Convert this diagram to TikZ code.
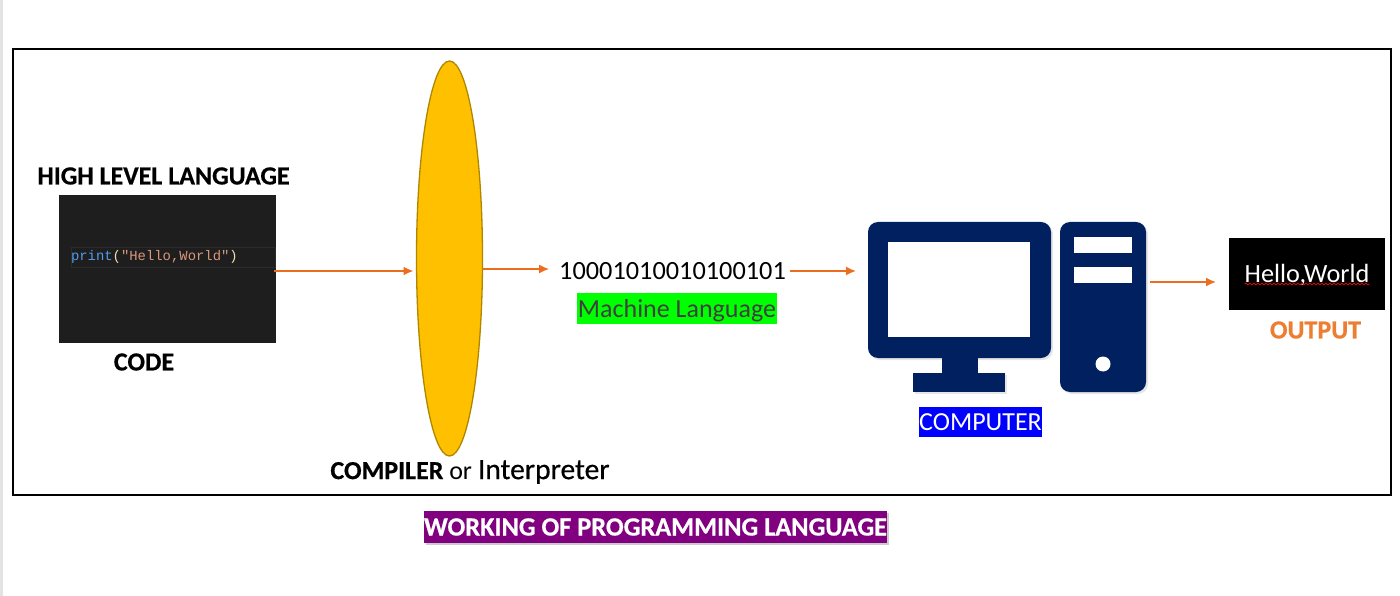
\documentclass[tikz,border=0pt]{standalone}
\usepackage{fontspec}
\usetikzlibrary{positioning,shadows,shapes.geometric,arrows.meta,decorations.pathmorphing}
\setmainfont{Carlito}
\setmonofont{Liberation Mono}
\newfontfamily\capfont{Carlito}[BoldFeatures={FakeBold=0.6}]
\newfontfamily\midfont{Carlito}[FakeBold=0.5]
\definecolor{flowcol}{HTML}{ED6D1F}
\definecolor{compfill}{HTML}{FFC000}
\definecolor{compline}{HTML}{AF8600}
\definecolor{navyicon}{HTML}{002060}
\definecolor{outcol}{HTML}{ED7D31}
\definecolor{titlecol}{HTML}{800080}
\definecolor{codebg}{HTML}{1E1E1E}
\definecolor{codeline}{HTML}{2B2B2B}
\definecolor{kwcol}{HTML}{4F9CEC}
\definecolor{strcol}{HTML}{D8967A}
\definecolor{parcol}{HTML}{F0E0B0}
\begin{document}
\begin{tikzpicture}[x=1pt,y=-1pt,node distance=4pt]

\def\fsize#1{\fontsize{#1}{#1}\selectfont};
\tikzset{caption/.style={
    inner sep=0,
    outer sep=0,
    font=\fsize{26}\capfont\bfseries
}};
\tikzset{flow/.style={
    draw=flowcol,
    line width=1.7pt,
    -{Latex[length=10pt,width=9pt]}
}};
\tikzset{icon part/.style={
    rectangle,
    fill=navyicon,
    inner sep=0,
    outer sep=0
}};
\tikzset{icon hole/.style={
    rectangle,
    fill=white,
    inner sep=0,
    outer sep=0
}};
\tikzset{tag/.style={
    rectangle,
    inner sep=0,
    outer sep=0
}};

\useasboundingbox (0,0) rectangle (1400,596);
\fill[gray!22] (0,0) rectangle (3,596);

\node[draw=black, line width=1.2pt, minimum width=1378pt, minimum height=446pt, inner sep=0] (frame) at (702,272) {};

% code side
\node[tag, fill=codebg, minimum width=217pt, minimum height=148pt] (code) at (167.5,269) {};
\node[tag, fill=codebg, draw=codeline, line width=1pt, minimum width=204pt, minimum height=20pt] (codebar) at (173,257) {};
\node[tag, font=\fsize{13.9}\ttfamily, anchor=west] (codetext) at (71,257) {\textcolor{kwcol}{print}\textcolor{parcol}{(}\textcolor{strcol}{"Hello,World"}\textcolor{parcol}{)}};
\node[caption] (high) at (163.5,176) {HIGH LEVEL LANGUAGE};
\node[caption] (codecap) at (144,362) {CODE};

% compiler
\node[ellipse, draw=compline, fill=compfill, line width=1.3pt, minimum width=66pt, minimum height=395pt, inner sep=0, outer sep=0] (compiler) at (449.5,258.5) {};
\node[inner sep=0, outer sep=0, font=\fsize{26}] (compcap) at (470,472) {\capfont\textbf{COMPILER} \normalfont or \midfont\fsize{29.5}Interpreter};

% machine code
\node[inner sep=0, outer sep=0, font=\fsize{26.3}] (bits) at (672.5,271) {10001010010100101};
\node[tag, fill=green, minimum width=200pt, minimum height=31pt, text=black!75, font=\fsize{26}] (machine) at (677,308.5) {\raisebox{-8.5pt}[0pt][0pt]{Machine Language}};

% computer
\node[icon part, drop shadow={shadow xshift=2pt,shadow yshift=-2pt,opacity=0.2}, rounded corners=10pt, minimum width=183pt, minimum height=136pt] (monitor) at (959.5,290) {};
\node[icon hole, minimum width=142pt, minimum height=95pt] (screen) at (959,289.5) {};
\node[icon part, minimum width=36pt, minimum height=17pt] (neck) at (959.5,366) {};
\node[icon part, drop shadow={shadow xshift=2pt,shadow yshift=-2pt,opacity=0.2}, minimum width=92pt, minimum height=19pt] (base) at (959,382.5) {};
\node[icon part, drop shadow={shadow xshift=2pt,shadow yshift=-2pt,opacity=0.2}, rounded corners=10pt, minimum width=86pt, minimum height=170pt] (tower) at (1103,307) {};
\node[icon hole, minimum width=58pt, minimum height=16pt] (slot1) at (1103,245) {};
\node[icon hole, minimum width=58pt, minimum height=16pt] (slot2) at (1103,275) {};
\node[circle, fill=white, inner sep=0, outer sep=0, minimum size=15pt] (led) at (1103,364) {};
\node[tag, fill=blue, text=white, minimum width=123pt, minimum height=30pt, font=\fsize{26}] (computer) at (980.5,422) {COMPUTER};

% output
\node[tag, fill=black, minimum width=156pt, minimum height=72pt] (screenout) at (1307,274) {};
\node[inner sep=0, outer sep=0, text=white, font=\fsize{26.3}] (hello) at (1307,275) {Hello,World};
\draw[red, line width=0.7pt, decorate, decoration={snake,amplitude=0.8pt,segment length=4pt}] ([yshift=-9pt]hello.west) -- ([yshift=-9pt]hello.east);
\node[caption, text=outcol] (output) at (1315.5,330) {OUTPUT};

% title
\node[tag, fill=titlecol, drop shadow={shadow xshift=1.5pt,shadow yshift=-1.5pt,opacity=0.4}, minimum width=463pt, minimum height=32pt] (titlebar) at (655.5,527) {};
\node[caption, text=white, font=\fsize{26.3}\capfont\bfseries] (title) at (655.5,527) {WORKING OF PROGRAMMING LANGUAGE};

% arrows
\path[flow] ([xshift=-2pt,yshift=-2pt]code.east) -- ([xshift=-3pt,yshift=-12.5pt]compiler.west);
\path[flow] ([yshift=-10.5pt]compiler.east) -- ([xshift=-10pt,yshift=2pt]bits.west);
\path[flow] ([xshift=4pt]bits.east) -- ([xshift=-12pt,yshift=19pt]monitor.west);
\path[flow] ([xshift=4pt,yshift=25pt]tower.east) -- ([xshift=-13pt,yshift=-8pt]screenout.west);
\end{tikzpicture}
\end{document}
